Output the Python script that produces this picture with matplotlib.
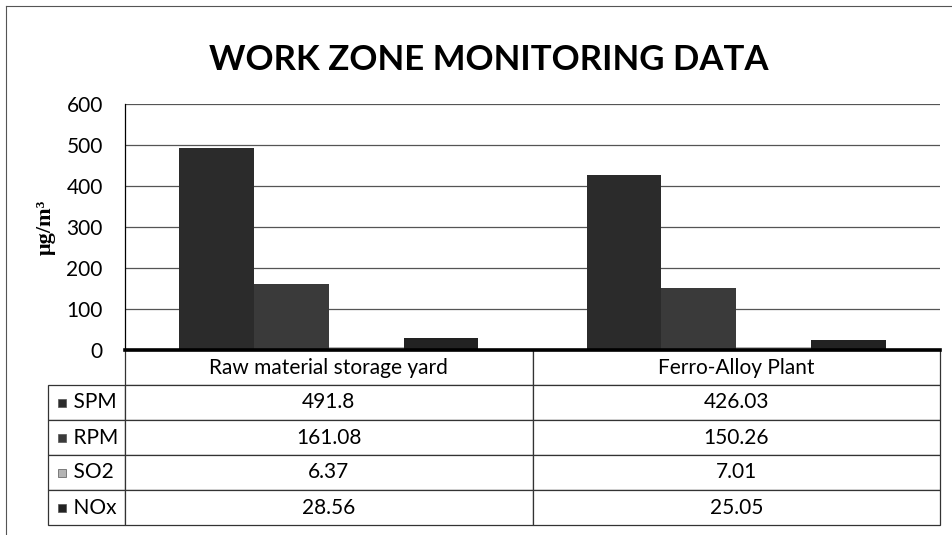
import matplotlib.pyplot as plt
import numpy as np
from matplotlib.patches import Rectangle

# dati
luoghi = ["Raw material storage yard", "Ferro-Alloy Plant"]
parametri = ["SPM", "RPM", "SO2", "NOx"]
spm = [491.8, 426.03]
rpm = [161.08, 150.26]
so2 = [6.37, 7.01]
nox = [28.56, 25.05]
etichette_valori = [["491.8", "426.03"], ["161.08", "150.26"], ["6.37", "7.01"], ["28.56", "25.05"]]
colori = ["#2b2b2b", "#3a3a3a", "#b4b4b4", "#222222"]

plt.rcParams['font.family'] = ['Lato', 'DejaVu Sans']

fig = plt.figure(figsize=(9.52, 5.35), dpi=100)
ax = fig.add_axes([125/952, 1 - 350/535, 815/952, 246/535])

serie = [spm, rpm, so2, nox]
x = np.arange(len(luoghi))
larghezza = 0.1835
for i, valori in enumerate(serie):
    ax.bar(x - 1.5*larghezza + i*larghezza, valori, larghezza,
           color=colori[i], edgecolor='none', zorder=3)

ax.set_xlim(-0.5, 1.5)
ax.set_ylim(0, 600)
ax.set_yticks(range(0, 601, 100))
ax.tick_params(axis='y', labelsize=15, length=0, pad=16)
ax.set_xticks([])
ax.grid(axis='y', color='#555555', linewidth=0.9, zorder=0)
for lato in ['top', 'right']:
    ax.spines[lato].set_visible(False)
ax.spines['left'].set_linewidth(0.9)
ax.spines['bottom'].set_linewidth(2.6)
ax.spines['bottom'].set_zorder(4)

ax.set_ylabel("μg/m³", fontsize=16, fontweight='bold', family='Liberation Serif')
ax.yaxis.set_label_coords(-69/815, 0.5)

# tabella dati sotto il grafico (prima colonna = nomi dei parametri)
righe = [["    " + p] + v for p, v in zip(parametri, etichette_valori)]
tab = ax.table(cellText=righe,
               colLabels=[""] + luoghi,
               colWidths=[77/815, 407.5/815, 407.5/815],
               cellLoc='center',
               bbox=[-77/815, -175/246, 892/815, 175/246])
tab.auto_set_font_size(False)
tab.set_fontsize(15)
for (r, c), cella in tab.get_celld().items():
    cella.set_linewidth(0.9)
    cella.set_edgecolor('#333333')
    if c == 0:
        cella.get_text().set_ha('left')
        cella.PAD = 0.05
    if r == 0 and c == 0:
        cella.visible_edges = ''

# quadratini della legenda
for i, c in enumerate(colori):
    centro = 402.5 + 35*i
    ax.add_patch(Rectangle(((58 - 125)/815, (350 - centro - 4)/246), 8/815, 8/246,
                           transform=ax.transAxes, clip_on=False,
                           facecolor=c, edgecolor='#555555', linewidth=0.5))

fig.text(0.513, 0.888, "WORK ZONE MONITORING DATA", ha='center', va='center',
         fontsize=25, fontweight='bold')

# bordo esterno
fig.add_artist(plt.Line2D([6/952, 6/952], [0, 1 - 6/535], color='#555555', linewidth=0.8))
fig.add_artist(plt.Line2D([6/952, 1], [1 - 6/535, 1 - 6/535], color='#555555', linewidth=0.8))

fig.savefig("out.png", dpi=100)
